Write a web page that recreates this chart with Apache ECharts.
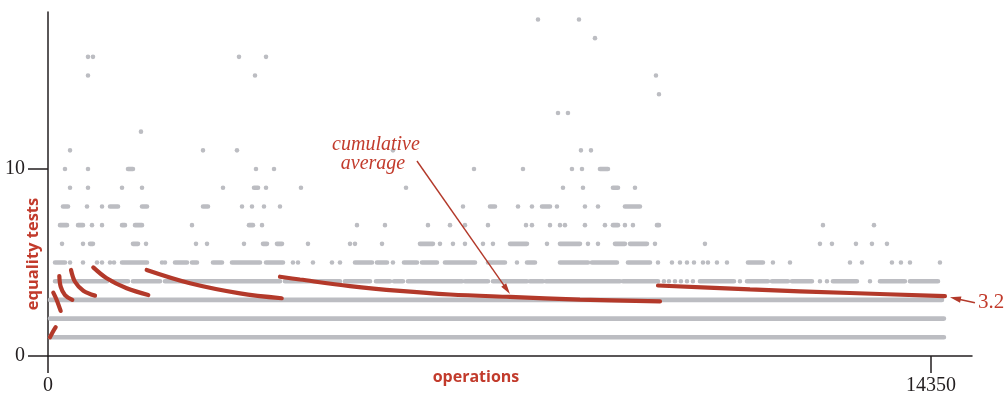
<!DOCTYPE html>
<html>
<head>
<meta charset="utf-8">
<script src="https://cdn.jsdelivr.net/npm/echarts@6/dist/echarts.min.js"></script>
<style>
  html, body { margin: 0; padding: 0; background: #fff; }
  #chart { width: 1007px; height: 396px; }
</style>
</head>
<body>
<div id="chart"></div>
<script>
// Cost of each put() (equality tests) over the whole run of operations.
// Each level lists the operation ranges that cost that many tests:
// a number is a single operation, a pair [from, to] is a run of neighbours.
const xTicks = [0, 14350];
const yTicks = [0, 10];

const level1 = [[33, 14560]];
const level2 = [[33, 14560]];
const level3 = [[33, 14528]];
const level4 = [[114, 959], [1040, 1300], [1381, 1820], [1901, 3770], [3851, 4745], [4826, 5233],
  [5330, 5558], [5623, 5769], [5850, 6728], [6776, 7150], [7231, 7784], [7833, 8044], [8093, 9295],
  [9344, 9913], 10010, 10091, 10189, 10286, 10384, 10481, [10595, 11148], 11245, [11359, 11700],
  [11765, 12025], [12090, 12415], 12545, 12659, [12756, 13146], 13358, [13520, 13926], [14008, 14463]];
const level5 = [[114, 276], 358, 569, 796, 878, 1008, 1073, [1203, 1609], 1853, 1901, [2064, 2259],
  [2340, 2421], [2681, 2828], [2990, 3445], [3543, 3819], 3981, 4063, 4306, 4615, 4745, [4989, 5265],
  [5346, 5509], 5606, [5785, 5996], [6078, 6321], [6451, 6939], [7150, 7426], 7621, [7784, 7914],
  [8320, 8775], [8840, 9246], [9425, 9783], 9913, 10140, 10270, 10384, 10498, 10644, 10725, 10871,
  11034, [11375, 11619], 11781, 12058, 13033, 13228, 13715, 13861, 14008, 14495];
const level6 = [228, 569, [683, 731], [1381, 1463], 1593, 2405, 2584, 3185, [3494, 3559], [3721, 3803],
  4225, 4908, 4989, 5428, [6045, 6256], 6370, 6581, 6776, 7069, 7231, [7508, 7784], 8109, [8320, 8645],
  8775, 8938, [9214, 9376], [9458, 9734], 9864, 10676, 12545, 12740, 13130, 13390, 13634];
const level7 = [[195, 309], [488, 569], 715, 878, [1203, 1251], [1414, 1528], 2340, [3266, 3331], 3478,
  5021, 5476, 6175, 6533, 6776, 7150, 7768, 7865, 8158, 8320, 8401, 8726, 9051, [9181, 9263], 9376,
  9506, [9896, 9929], 12594, 13423];
const level8 = [[244, 325], 634, 878, [1008, 1138], [1528, 1609], [2519, 2600], 3153, 3315, 3510, 3770,
  6744, [7183, 7264], 7638, 7865, [8028, 8158], 8271, 8726, 8938, [9376, 9620]];
const level9 = [358, 650, 1203, 1528, 2844, [3348, 3413], 3543, 4111, 5818, 8369, 8694, [9181, 9263], 9539];
const level10 = [276, 650, [1300, 1381], 3380, 3673, 6923, 7719, 8515, 8678, [8970, 9100]];
const level11 = [358, 2519, 3071, 5606, 8661, 8824];
const level12 = [1511];
const level13 = [8288, 8450];
const level14 = [9929];
const level15 = [650, 3364, 9880];
const level16 = [650, 731, 3104, 3543];
const level17 = [8889];
const level18 = [7963, 8629];

// Cumulative average cost, one piece between consecutive table resizes.
const avgSeg1 = [[32, 1.0], [73, 1.26], [125, 1.54]];
const avgSeg2 = [[86, 3.39], [141, 3.0], [206, 2.41]];
const avgSeg3 = [[184, 4.28], [206, 3.71], [276, 3.26], [395, 3.0]];
const avgSeg4 = [[374, 4.6], [439, 3.97], [574, 3.49], [764, 3.23]];
const avgSeg5 = [[736, 4.74], [954, 4.16], [1279, 3.62], [1630, 3.26]];
const avgSeg6 = [[1604, 4.6], [2308, 3.89], [3120, 3.35], [3798, 3.09]];
const avgSeg7 = [[3770, 4.24], [4095, 4.09], [4908, 3.74], [5720, 3.48], [6533, 3.29], [7508, 3.16],
  [8645, 3.02], [9945, 2.92]];
const avgSeg8 = [[9913, 3.77], [11408, 3.56], [13033, 3.37], [14576, 3.2]];

const finalAverage = '3.2';

// Annotation arrows, in data units: [tail, head]
const averageArrow = [[5996, 10.43], [7508, 3.32]];
const finalArrow = [[15064, 2.85], [14658, 3.14]];

const DOT = '#bcbdc2';
const RED_LINE = '#b3392a';
const RED_TEXT = '#c23b2c';
const INK = '#231f20';
const DOT_SIZE = 4.6;

const levels = [level1, level2, level3, level4, level5, level6, level7, level8, level9,
  level10, level11, level12, level13, level14, level15, level16, level17, level18];
const runs = [];
levels.forEach((list, i) => {
  list.forEach(r => {
    const pair = Array.isArray(r) ? r : [r, r];
    runs.push([pair[0], pair[1], i + 1]);
  });
});

function renderRun(params, api) {
  const a = api.coord([api.value(0), api.value(2)]);
  const b = api.coord([api.value(1), api.value(2)]);
  return {
    type: 'rect',
    shape: { x: a[0] - DOT_SIZE / 2, y: a[1] - DOT_SIZE / 2, width: b[0] - a[0] + DOT_SIZE, height: DOT_SIZE, r: DOT_SIZE / 2 },
    style: { fill: DOT }
  };
}

const avgSegments = [avgSeg1, avgSeg2, avgSeg3, avgSeg4, avgSeg5, avgSeg6, avgSeg7, avgSeg8];
const avgSeries = avgSegments.map(seg => ({
  type: 'line',
  data: seg,
  smooth: 0.35,
  showSymbol: false,
  symbol: 'none',
  silent: true,
  z: 5,
  lineStyle: { color: RED_LINE, width: 4.2, cap: 'round' }
}));

const chart = echarts.init(document.getElementById('chart'), null, { renderer: 'canvas' });

chart.setOption({
  animation: false,
  backgroundColor: '#fff',
  grid: { left: 48, right: 35, top: 12, bottom: 40, containLabel: false, outerBoundsMode: 'none' },
  xAxis: {
    type: 'value', min: 0, max: 15016,
    axisLine: { show: true, lineStyle: { color: INK, width: 1.5 } },
    axisTick: { show: true, inside: false, length: 17, customValues: xTicks, lineStyle: { color: INK, width: 1.5 } },
    axisLabel: { show: true, customValues: xTicks, margin: 20, color: INK, fontFamily: 'Liberation Serif', fontSize: 20,
      formatter: v => String(v) },
    splitLine: { show: false }
  },
  yAxis: {
    type: 'value', min: 0, max: 18.4,
    axisLine: { show: true, onZero: false, lineStyle: { color: INK, width: 1.5 } },
    axisTick: { show: true, inside: false, length: 20, customValues: yTicks, lineStyle: { color: INK, width: 1.5 } },
    axisLabel: { show: true, customValues: yTicks, margin: 23, color: INK, fontFamily: 'Liberation Serif', fontSize: 20,
      formatter: v => String(v) },
    splitLine: { show: false }
  },
  series: [{
    type: 'custom',
    renderItem: renderRun,
    data: runs,
    encode: { x: [0, 1], y: 2 },
    silent: true,
    z: 2
  }].concat(avgSeries)
});

// Annotations placed from the data coordinates of their arrows.
function px(p) { return chart.convertToPixel({ gridIndex: 0 }, p); }

function arrow(tail, head, len, half) {
  const t = px(tail), h = px(head);
  const dx = h[0] - t[0], dy = h[1] - t[1];
  const d = Math.hypot(dx, dy);
  const ux = dx / d, uy = dy / d;
  const bx = h[0] - ux * len, by = h[1] - uy * len;
  return [
    { type: 'line', silent: true, z: 10,
      shape: { x1: t[0], y1: t[1], x2: bx + ux * 2, y2: by + uy * 2 },
      style: { stroke: RED_LINE, lineWidth: 1.4 } },
    { type: 'polygon', silent: true, z: 10,
      shape: { points: [[h[0], h[1]], [bx - uy * half, by + ux * half], [bx + uy * half, by - ux * half]] },
      style: { fill: RED_LINE } }
  ];
}

const a0 = px(averageArrow[0]);
const f0 = px(finalArrow[0]);

chart.setOption({
  graphic: [
    ...arrow(averageArrow[0], averageArrow[1], 11, 3),
    ...arrow(finalArrow[0], finalArrow[1], 11, 3.2),
    { type: 'text', silent: true, z: 10, x: a0[0] - 41, y: a0[1] - 16,
      style: { text: 'cumulative', fill: RED_TEXT, font: 'italic 20px "Liberation Serif"', align: 'center', verticalAlign: 'middle' } },
    { type: 'text', silent: true, z: 10, x: a0[0] - 44, y: a0[1] + 3,
      style: { text: 'average', fill: RED_TEXT, font: 'italic 20px "Liberation Serif"', align: 'center', verticalAlign: 'middle' } },
    { type: 'text', silent: true, z: 10, x: f0[0] + 3, y: f0[1],
      style: { text: finalAverage, fill: RED_TEXT, font: '21px "Liberation Serif"', align: 'left', verticalAlign: 'middle' } },
    { type: 'text', silent: true, z: 10, x: 33, y: 254, rotation: Math.PI / 2,
      style: { text: 'equality tests', fill: RED_TEXT, font: 'bold 16.5px "Open Sans"', align: 'center', verticalAlign: 'middle' } },
    { type: 'text', silent: true, z: 10, x: 476, y: 377,
      style: { text: 'operations', fill: RED_TEXT, font: 'bold 16px "Open Sans"', align: 'center', verticalAlign: 'middle' } }
  ]
});
</script>
</body>
</html>
